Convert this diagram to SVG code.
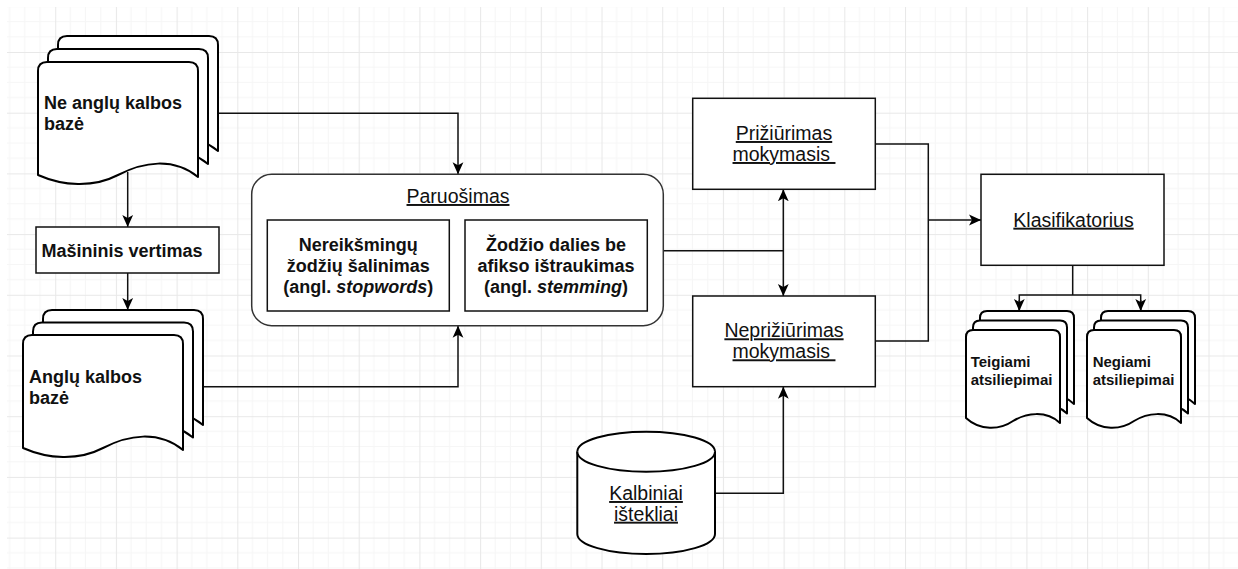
<svg xmlns="http://www.w3.org/2000/svg" xmlns:xlink="http://www.w3.org/1999/xlink" width="1238" height="569" viewBox="0 0 1238 569">
<defs>
<style>
.bg{fill:#fff}
.doc{fill:#fff;stroke:#000;stroke-width:2;stroke-linejoin:round}
.box{fill:#fff;stroke:#111;stroke-width:1.5}
.grp{fill:#fff;stroke:#333;stroke-width:1.5}
.conn{fill:none;stroke:#111;stroke-width:1.5}
.b18{font-family:"Liberation Sans",Arial,sans-serif;font-weight:bold;font-size:18px;fill:#111}
.b15{font-family:"Liberation Sans",Arial,sans-serif;font-weight:bold;font-size:15px;fill:#111}
.u{font-family:"Liberation Sans",Arial,sans-serif;font-size:19.5px;fill:#111;text-decoration:underline;white-space:pre}
.mid{text-anchor:middle}
</style>
<pattern id="grid" patternUnits="userSpaceOnUse" x="-5.5" y="-8.7" width="60.7" height="60.7">
<rect width="60.7" height="60.7" fill="#fff"/>
<path d="M15.175,0V60.7M30.35,0V60.7M45.525,0V60.7M0,15.175H60.7M0,30.35H60.7M0,45.525H60.7" stroke="#f6f6f6" stroke-width="1" fill="none"/>
<path d="M0.5,0V60.7M0,0.5H60.7" stroke="#e8e8e8" stroke-width="1" fill="none"/>
</pattern>
<path id="docBig" d="M0,9 Q0,0 9,0 H151 Q160,0 160,9 V115 C135,95 105,100 80,113 C55,126 25,124 0,113 Z"/>
<path id="docSmall" d="M0,7 Q0,0 7,0 H87 Q94,0 94,7 V93 C80,80 60,83 47,91 C34,100 14,101 0,88 Z"/>
<marker id="arr" viewBox="0 0 10 10" refX="10" refY="5" markerWidth="12" markerHeight="12" markerUnits="userSpaceOnUse" orient="auto-start-reverse">
<path d="M0,0.5 L10,5 L0,9.5 L2.5,5 Z" fill="#000"/>
</marker>
<marker id="arrS" viewBox="0 0 10 10" refX="10" refY="5" markerWidth="9" markerHeight="9" markerUnits="userSpaceOnUse" orient="auto">
<path d="M0,0.5 L10,5 L0,9.5 L2.5,5 Z" fill="#000"/>
</marker>
</defs>
<rect class="bg" width="1238" height="569"/>
<rect x="7" y="7" width="1231" height="562" fill="url(#grid)"/>

<g id="connectors">
<polyline class="conn" points="218,113.3 458,113.3 458,174.3" marker-end="url(#arr)"/>
<line class="conn" x1="127.7" y1="172" x2="127.7" y2="227" marker-end="url(#arr)"/>
<line class="conn" x1="127.7" y1="273" x2="127.7" y2="310" marker-end="url(#arr)"/>
<polyline class="conn" points="203,386.7 458,386.7 458,325.7" marker-end="url(#arr)"/>
<line class="conn" x1="449.3" y1="266" x2="465" y2="266" marker-end="url(#arrS)"/>
<polyline class="conn" points="663.3,250.7 783.3,250.7"/>
<line class="conn" x1="783.3" y1="189.3" x2="783.3" y2="296" marker-start="url(#arr)" marker-end="url(#arr)"/>
<polyline class="conn" points="875.3,144 928.3,144 928.3,341 875.3,341"/>
<line class="conn" x1="928.3" y1="220" x2="981" y2="220" marker-end="url(#arr)"/>
<polyline class="conn" points="1072.7,265.3 1072.7,295"/>
<polyline class="conn" points="1019.3,311 1019.3,295 1140.7,295 1140.7,311"/>
<line class="conn" x1="1019.3" y1="300" x2="1019.3" y2="311" marker-end="url(#arr)"/>
<line class="conn" x1="1140.7" y1="300" x2="1140.7" y2="311" marker-end="url(#arr)"/>
<polyline class="conn" points="715,493.3 783.3,493.3 783.3,386.7" marker-end="url(#arr)"/>
</g>

<g id="doc-ne-anglu">
<use xlink:href="#docBig" class="doc" x="58" y="36"/>
<use xlink:href="#docBig" class="doc" x="48" y="49"/>
<use xlink:href="#docBig" class="doc" x="38" y="62"/>
<text class="b18" x="44" y="109">Ne anglų kalbos</text>
<text class="b18" x="44" y="130">bazė</text>
</g>

<g id="masininis-vertimas">
<rect class="box" x="36" y="227" width="183" height="46"/>
<text class="b18 mid" x="122" y="257">Mašininis vertimas</text>
</g>

<g id="doc-anglu">
<use xlink:href="#docBig" class="doc" x="43" y="310"/>
<use xlink:href="#docBig" class="doc" x="33" y="322.5"/>
<use xlink:href="#docBig" class="doc" x="23" y="335"/>
<text class="b18" x="29" y="383">Anglų kalbos</text>
<text class="b18" x="29" y="404">bazė</text>
</g>

<g id="paruosimas">
<rect class="grp" x="251.7" y="174.3" width="411.6" height="151.4" rx="20" ry="20"/>
<text class="u mid" x="458" y="203">Paruošimas</text>
</g>

<g id="stopwords">
<rect class="box" x="267.3" y="220" width="182" height="91"/>
<text class="b18 mid" x="358.3" y="250.7">Nereikšmingų</text>
<text class="b18 mid" x="358.3" y="271.5">žodžių šalinimas</text>
<text class="b18 mid" x="358.3" y="292.5">(angl. <tspan font-style="italic">stopwords</tspan>)</text>
</g>

<g id="stemming">
<rect class="box" x="465" y="220" width="182.3" height="91"/>
<text class="b18 mid" x="556" y="250.7">Žodžio dalies be</text>
<text class="b18 mid" x="556" y="271.5">afikso ištraukimas</text>
<text class="b18 mid" x="556" y="292.5">(angl. <tspan font-style="italic">stemming</tspan>)</text>
</g>

<g id="priziurimas">
<rect class="box" x="692.7" y="98.3" width="182.6" height="91"/>
<text class="u mid" x="784" y="140">Prižiūrimas</text>
<text class="u mid" x="784" y="161">mokymasis </text>
</g>

<g id="nepriziurimas">
<rect class="box" x="692.7" y="296" width="182.6" height="90.7"/>
<text class="u mid" x="784" y="337.3">Neprižiūrimas</text>
<text class="u mid" x="784" y="358.3">mokymasis </text>
</g>

<g id="klasifikatorius">
<rect class="box" x="981" y="174.3" width="183" height="91"/>
<text class="u mid" x="1073.5" y="226.7">Klasifikatorius</text>
</g>

<g id="teigiami">
<use xlink:href="#docSmall" class="doc" x="980" y="311"/>
<use xlink:href="#docSmall" class="doc" x="973" y="320.5"/>
<use xlink:href="#docSmall" class="doc" x="966" y="330"/>
<text class="b15" x="970.7" y="366.7">Teigiami</text>
<text class="b15" x="970.7" y="385">atsiliepimai</text>
</g>

<g id="negiami">
<use xlink:href="#docSmall" class="doc" x="1101" y="311"/>
<use xlink:href="#docSmall" class="doc" x="1094" y="320.5"/>
<use xlink:href="#docSmall" class="doc" x="1087" y="330"/>
<text class="b15" x="1092.7" y="366.7">Negiami</text>
<text class="b15" x="1092.7" y="385">atsiliepimai</text>
</g>

<g id="kalbiniai-istekliai">
<path class="doc" d="M577.3,451.7 A68.85,20 0 0 1 715,451.7 V534 A68.85,20 0 0 1 577.3,534 Z"/>
<path class="doc" fill="none" d="M577.3,451.7 A68.85,20 0 0 0 715,451.7"/>
<text class="u mid" x="646" y="500">Kalbiniai</text>
<text class="u mid" x="646" y="520.7">ištekliai</text>
</g>
</svg>
